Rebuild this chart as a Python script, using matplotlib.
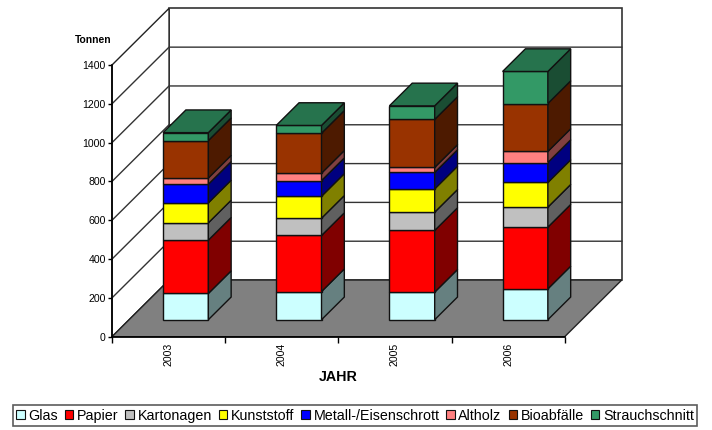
import numpy as np
import matplotlib
matplotlib.use("Agg")
import matplotlib.pyplot as plt
from matplotlib.colors import to_rgb

years = ["2003", "2004", "2005", "2006"]
names = ["Glas", "Papier", "Kartonagen", "Kunststoff", "Metall-/Eisenschrott",
         "Altholz", "Bioabfälle", "Strauchschnitt"]
glas = [135, 145, 142, 159]
papier = [275, 289, 318, 318]
kartonagen = [89, 89, 94, 103]
kunststoff = [103, 113, 120, 127]
metall = [96, 81, 85, 103]
altholz = [32, 38, 26, 57]
bioabfall = [193, 206, 247, 247]
strauch = [41, 40, 70, 165]
series = [glas, papier, kartonagen, kunststoff, metall, altholz, bioabfall, strauch]
colors = ["#CCFFFF", "#FF0000", "#C0C0C0", "#FFFF00", "#0000FF", "#FF8080", "#993300", "#339966"]

# depth of the box, in data units of the front plane
DX = 0.504
DY = 292
EDGE = "#111111"
W, H = 712, 430


def shade(color, f):
    return tuple(c * f for c in to_rgb(color))


def proj(x, v, d):
    return x + d * DX, v + d * DY


def face(ax, pts, z, **kw):
    p = [proj(*q) for q in pts]
    ax.fill([q[0] for q in p], [q[1] for q in p], zorder=z, clip_on=False, **kw)


def main():
    plt.rcParams["font.family"] = ["Liberation Sans", "DejaVu Sans"]
    fig = plt.figure(figsize=(W / 100, H / 100), dpi=100)
    ax = fig.add_axes([112 / W, 1 - 336.7 / H, 452.7 / W, 271.7 / H])
    ax.set_xlim(0, 4)
    ax.set_ylim(0, 1400)
    ax.patch.set_visible(False)

    # walls and floor
    face(ax, [(0, 0, 1), (4, 0, 1), (4, 1400, 1), (0, 1400, 1)], 1, facecolor="white", edgecolor="#333333", linewidth=1.2)
    face(ax, [(0, 0, 0), (0, 0, 1), (0, 1400, 1), (0, 1400, 0)], 1, facecolor="white", edgecolor="#222222", linewidth=1.0)
    face(ax, [(0, 0, 0), (4, 0, 0), (4, 0, 1), (0, 0, 1)], 2, facecolor="#808080", edgecolor="#222222", linewidth=1.0)
    for v in range(200, 1400, 200):
        xs, ys = zip(proj(0, v, 0), proj(0, v, 1), proj(4, v, 1))
        ax.plot(xs, ys, color="#333333", linewidth=1.0, zorder=1.5, clip_on=False)

    # stacked bars
    w = 0.4
    d0, d1 = 0.3, 0.7
    for i in range(len(years)):
        x0 = i + 0.5 - w / 2
        x1 = x0 + w
        bottom = 0
        for s, values in enumerate(series):
            top = bottom + values[i]
            z = 3 + i + s * 0.01
            left, base = proj(x0, bottom, d0)
            ax.bar(left, values[i], w, bottom=base, align="edge", color=colors[s],
                   edgecolor=EDGE, linewidth=1.0, zorder=z, clip_on=False)
            face(ax, [(x1, bottom, d0), (x1, bottom, d1), (x1, top, d1), (x1, top, d0)], z,
                 facecolor=shade(colors[s], 0.5), edgecolor=EDGE, linewidth=1.0)
            bottom = top
        face(ax, [(x0, bottom, d0), (x1, bottom, d0), (x1, bottom, d1), (x0, bottom, d1)], 3 + i + 0.5,
             facecolor=shade(colors[-1], 0.75), edgecolor=EDGE, linewidth=1.0)

    # axes
    for side in ["top", "right"]:
        ax.spines[side].set_visible(False)
    for side in ["left", "bottom"]:
        ax.spines[side].set_linewidth(1.2)
        ax.spines[side].set_zorder(2.5)
    ax.set_yticks(range(0, 1401, 200))
    ax.set_xticks(range(0, 5))
    ax.set_xticklabels([])
    ax.set_xticks(np.arange(len(years)) + 0.5, minor=True)
    ax.set_xticklabels(years, minor=True, rotation=90, fontsize=7.6)
    ax.tick_params(axis="x", which="minor", length=0, pad=4.5)
    ax.tick_params(axis="x", which="major", length=4, width=1)
    ax.tick_params(axis="y", length=3, width=1, labelsize=7.6, pad=1.5)

    fig.text(93.3 / W, 1 - 40 / H, "Tonnen", fontsize=7.4, fontweight="bold", ha="center", va="center")
    fig.text(338 / W, 1 - 377 / H, "JAHR", fontsize=10.3, fontweight="bold", ha="center", va="center")

    handles = [plt.Rectangle((0, 0), 1, 1, facecolor=c, edgecolor=EDGE, linewidth=0.8) for c in colors]
    leg = fig.legend(handles, names, ncol=8, loc="center", bbox_to_anchor=(355 / W, 1 - 415.6 / H),
                     fontsize=10.3, frameon=True, fancybox=False, edgecolor="#333333",
                     handlelength=0.6, handleheight=0.65, handletextpad=0.25, columnspacing=0.48,
                     borderpad=0.25, borderaxespad=0)
    leg.get_frame().set_linewidth(1.2)

    fig.savefig("out.png", dpi=100)


if __name__ == "__main__":
    main()
